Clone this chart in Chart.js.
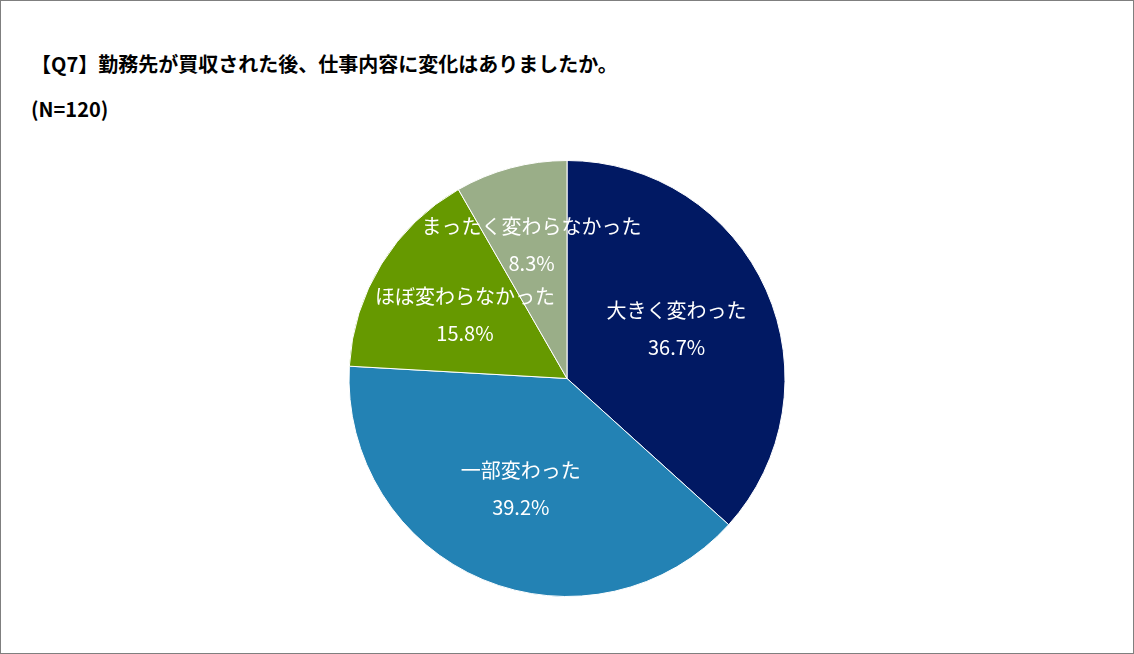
<!DOCTYPE html>
<html><head><meta charset="utf-8">
<script src="https://cdn.jsdelivr.net/npm/chart.js@4"></script>
<style>
html,body{margin:0;padding:0;background:#fff;}
#wrap{position:relative;width:1134px;height:654px;box-sizing:border-box;border:1px solid #7f7f7f;}
#t{position:absolute;left:30px;top:40px;font-family:"Noto Sans CJK JP";font-weight:bold;font-size:20px;line-height:45px;color:#000;}
canvas{position:absolute;left:0;top:0;}
</style></head><body>
<div id="wrap"><div id="t">【Q7】勤務先が買収された後、仕事内容に変化はありましたか。<br>(N=120)</div>
<canvas id="c" width="1132" height="652"></canvas></div>
<script>
const categories=["大きく変わった","一部変わった","ほぼ変わらなかった","まったく変わらなかった"];
const values=[36.7,39.2,15.8,8.3];
const colors=["#011963","#2382B4","#669900","#9AAE88"];
const labelPlugin={id:"lbl",afterDatasetsDraw(ch){
  const ctx=ch.ctx;const meta=ch.getDatasetMeta(0);
  ctx.save();ctx.fillStyle="#fff";ctx.font="20px 'Noto Sans CJK JP'";ctx.textAlign="center";ctx.textBaseline="middle";
  meta.data.forEach((a,i)=>{const m=(a.startAngle+a.endAngle)/2;const r=a.outerRadius*(i==3?0.63:0.55);
    const x=a.x+Math.cos(m)*r,y=a.y+Math.sin(m)*r;
    ctx.fillText(categories[i],x,y-19);ctx.fillText(values[i].toFixed(1)+"%",x,y+18);});
  ctx.restore();}};
new Chart(document.getElementById("c"),{type:"pie",
 data:{labels:categories,datasets:[{data:values,backgroundColor:colors,borderColor:"#fff",borderWidth:1}]},
 options:{responsive:false,animation:false,layout:{padding:{top:159,bottom:56}},
  plugins:{legend:{display:false},tooltip:{enabled:false}}},
 plugins:[labelPlugin]});
</script></body></html>
